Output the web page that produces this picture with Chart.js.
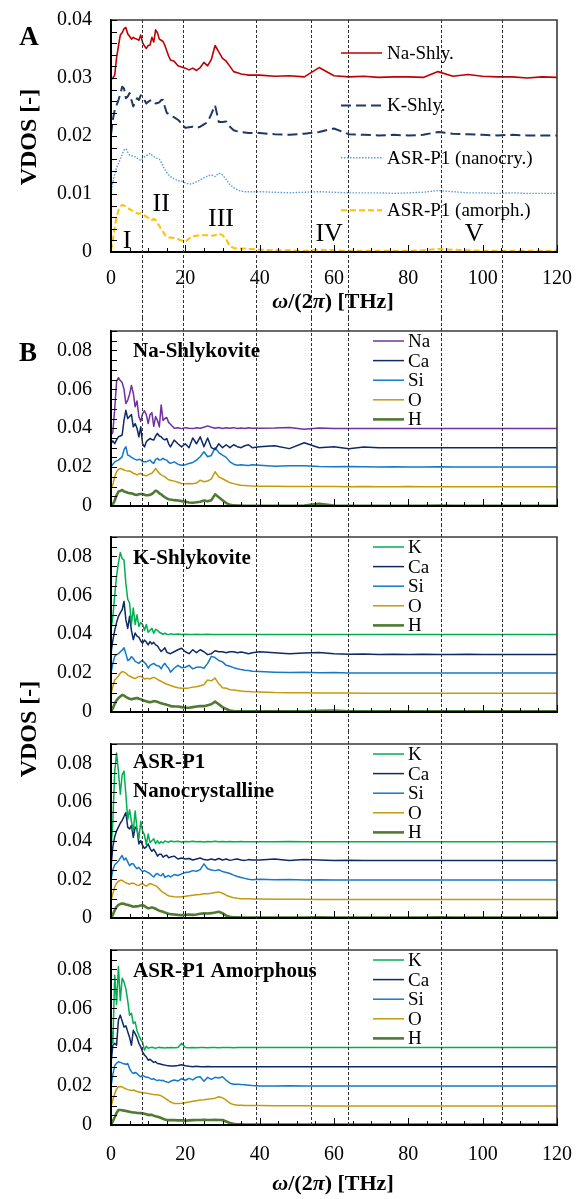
<!DOCTYPE html>
<html><head><meta charset="utf-8">
<script src="https://cdn.jsdelivr.net/npm/chart.js@4/dist/chart.umd.min.js"></script>
<style>
html,body{margin:0;padding:0;background:#fff;}
body{width:583px;height:1199px;position:relative;overflow:hidden;font-family:'Liberation Serif','Times New Roman',serif;color:#000;}
canvas{position:absolute;left:0;}
.c{position:absolute;transform:translate(-50%,-50%);line-height:1;white-space:nowrap;font-weight:bold;z-index:5;}
.r{transform:translate(-50%,-50%) rotate(-90deg);}
</style></head><body>
<canvas id="cA" width="583" height="318" style="top:0px;width:583px;height:318px"></canvas>
<canvas id="cB1" width="583" height="206" style="top:318px;width:583px;height:206px"></canvas>
<canvas id="cB2" width="583" height="207" style="top:524px;width:583px;height:207px"></canvas>
<canvas id="cB3" width="583" height="206" style="top:731px;width:583px;height:206px"></canvas>
<canvas id="cB4" width="583" height="262" style="top:937px;width:583px;height:262px"></canvas>
<div class="c" style="left:29px;top:36px;font-size:27px">A</div>
<div class="c" style="left:28px;top:352px;font-size:27px">B</div>
<div class="c r" style="left:28px;top:137px;font-size:24px">VDOS [-]</div>
<div class="c r" style="left:28px;top:729px;font-size:24px">VDOS [-]</div>
<div class="c" style="left:333px;top:301px;font-size:22px"><i>ω</i>/(2<i>π</i>) [THz]</div>
<div class="c" style="left:333px;top:1183px;font-size:22px"><i>ω</i>/(2<i>π</i>) [THz]</div>
<script>
// ---------- DATA ----------
const freq = [0,0.5,1,1.5,2,2.5,3,3.5,4,4.5,5,5.5,6,6.5,7,7.5,8,8.5,9,9.5,10,10.5,11,11.5,12,12.5,13,13.5,14,14.5,15,15.5,16,
17,18,19,20,21,22,23,24,25,26,27,28,29,30,31,32,33,34,35,36,37,38,
40,44,48,52,56,60,64,68,72,76,80,84,88,92,96,100,104,108,112,116,120];

const xTicks = [0,20,40,60,80,100,120];
const yTicksA = [0,0.01,0.02,0.03,0.04];
const yTicksB = [0,0.02,0.04,0.06,0.08];
const boundaries = [8.3,19.4,39,53.8,63.8,88.8,105.2];
const regionNames = ['I','II','III','IV','V'];
const regionX = [4.3,13.5,29.6,58.7,97.7];
const regionY = [0.0021,0.0084,0.0059,0.0033,0.0033];

const seriesNamesA = ['Na-Shly.','K-Shly.','ASR-P1 (nanocry.)','ASR-P1 (amorph.)'];
const aNaShly = [0.0297,0.0300,0.0305,0.0335,0.0355,0.0374,0.0378,0.0385,0.0387,0.0376,0.0372,0.0367,0.0370,0.0368,0.0367,0.0365,0.0374,0.0361,0.0355,0.0351,0.0356,0.0357,0.0370,0.0362,0.0383,0.0378,0.0367,0.0365,0.0363,0.0356,0.0347,0.0338,0.0331,
0.0329,0.0321,0.0319,0.0317,0.0314,0.0317,0.0313,0.0318,0.0327,0.0321,0.0332,0.0356,0.0345,0.0334,0.0329,0.0320,0.0311,0.0309,0.0307,0.0306,0.0305,0.0305,
0.0305,0.0303,0.0304,0.0302,0.0318,0.0304,0.0302,0.0303,0.0301,0.0302,0.0302,0.0301,0.0311,0.0303,0.0306,0.0303,0.0302,0.0302,0.0300,0.0302,0.0301];
const aKShly = [0.0202,0.0228,0.0245,0.0253,0.0262,0.0272,0.0285,0.0282,0.0265,0.0268,0.0274,0.0262,0.0251,0.0258,0.0265,0.0262,0.0270,0.0268,0.0262,0.0256,0.0259,0.0261,0.0262,0.0258,0.0256,0.0257,0.0258,0.0262,0.0262,0.0250,0.0240,0.0238,0.0236,
0.0232,0.0228,0.0222,0.0214,0.0215,0.0216,0.0214,0.0216,0.0220,0.0224,0.0238,0.0253,0.0224,0.0224,0.0225,0.0216,0.0210,0.0208,0.0207,0.0206,0.0205,0.0205,
0.0205,0.0203,0.0202,0.0204,0.0207,0.0213,0.0203,0.0202,0.0201,0.0202,0.0201,0.0202,0.0207,0.0204,0.0203,0.0202,0.0201,0.0202,0.0201,0.0201,0.0201];
const aNano = [0.0101,0.0120,0.0135,0.0145,0.0153,0.0160,0.0168,0.0176,0.0178,0.0172,0.0167,0.0166,0.0165,0.0164,0.0162,0.0160,0.0158,0.0161,0.0164,0.0166,0.0168,0.0170,0.0167,0.0165,0.0163,0.0161,0.0160,0.0155,0.0148,0.0142,0.0137,0.0133,0.0130,
0.0126,0.0123,0.0122,0.0119,0.0117,0.0118,0.0121,0.0124,0.0128,0.0131,0.0133,0.0130,0.0136,0.0133,0.0125,0.0116,0.0111,0.0107,0.0105,0.0104,0.0104,0.0104,
0.0104,0.0103,0.0102,0.0103,0.0104,0.0103,0.0102,0.0102,0.0102,0.0101,0.0102,0.0103,0.0106,0.0104,0.0102,0.0102,0.0101,0.0102,0.0101,0.0101,0.0101];
const aAmorph = [0.0003,0.0020,0.0042,0.0060,0.0072,0.0078,0.0081,0.0080,0.0079,0.0076,0.0074,0.0072,0.0070,0.0068,0.0067,0.0066,0.0067,0.0066,0.0063,0.0061,0.0059,0.0056,0.0055,0.0057,0.0055,0.0050,0.0045,0.0039,0.0035,0.0030,0.0026,0.0025,0.0025,
0.0024,0.0022,0.0020,0.0018,0.0023,0.0027,0.0028,0.0029,0.0029,0.0029,0.0028,0.0029,0.0032,0.0029,0.0022,0.0010,0.0007,0.0006,0.0006,0.0006,0.0005,0.0005,
0.0004,0.0003,0.0003,0.0002,0.0004,0.0003,0.0002,0.0002,0.0002,0.0002,0.0002,0.0003,0.0005,0.0004,0.0003,0.0002,0.0002,0.0002,0.0002,0.0002,0.0002];

// Panel B1: Na-Shlykovite
const b1Na = [0.0364,0.0380,0.0500,0.0640,0.0660,0.0645,0.0635,0.0600,0.0527,0.0545,0.0575,0.0620,0.0580,0.0510,0.0540,0.0460,0.0435,0.0475,0.0490,0.0470,0.0424,0.0470,0.0480,0.0410,0.0460,0.0440,0.0407,0.0520,0.0440,0.0450,0.0455,0.0430,0.0420,
0.0400,0.0402,0.0398,0.0403,0.0400,0.0398,0.0402,0.0400,0.0405,0.0412,0.0405,0.0400,0.0404,0.0399,0.0402,0.0400,0.0403,0.0399,0.0401,0.0399,0.0402,0.0400,
0.0400,0.0401,0.0404,0.0395,0.0401,0.0399,0.0398,0.0399,0.0398,0.0399,0.0398,0.0399,0.0398,0.0398,0.0399,0.0398,0.0398,0.0399,0.0398,0.0398,0.0398];
const b1Ca = [0.0321,0.0335,0.0321,0.0340,0.0356,0.0360,0.0365,0.0441,0.0492,0.0450,0.0460,0.0470,0.0407,0.0424,0.0400,0.0356,0.0407,0.0320,0.0304,0.0330,0.0340,0.0347,0.0342,0.0339,0.0360,0.0373,0.0360,0.0356,0.0345,0.0340,0.0347,0.0320,0.0304,
0.0339,0.0320,0.0304,0.0320,0.0300,0.0350,0.0320,0.0356,0.0305,0.0350,0.0300,0.0290,0.0320,0.0300,0.0315,0.0300,0.0315,0.0305,0.0300,0.0310,0.0315,0.0300,
0.0305,0.0310,0.0295,0.0325,0.0300,0.0305,0.0295,0.0303,0.0299,0.0300,0.0299,0.0300,0.0299,0.0300,0.0299,0.0300,0.0299,0.0299,0.0300,0.0299,0.0299];
const b1Si = [0.0202,0.0215,0.0227,0.0232,0.0236,0.0245,0.0253,0.0290,0.0305,0.0262,0.0258,0.0250,0.0245,0.0240,0.0236,0.0240,0.0238,0.0227,0.0228,0.0227,0.0232,0.0236,0.0225,0.0219,0.0240,0.0245,0.0236,0.0238,0.0245,0.0238,0.0236,0.0225,0.0219,
0.0227,0.0215,0.0210,0.0212,0.0219,0.0224,0.0236,0.0253,0.0279,0.0253,0.0260,0.0300,0.0275,0.0262,0.0250,0.0227,0.0215,0.0210,0.0212,0.0210,0.0208,0.0212,
0.0210,0.0205,0.0207,0.0207,0.0203,0.0202,0.0203,0.0202,0.0201,0.0202,0.0201,0.0201,0.0202,0.0201,0.0201,0.0201,0.0201,0.0201,0.0201,0.0201,0.0201];
const b1O = [0.0091,0.0110,0.0150,0.0176,0.0188,0.0193,0.0190,0.0185,0.0182,0.0180,0.0180,0.0175,0.0168,0.0165,0.0160,0.0165,0.0168,0.0160,0.0158,0.0155,0.0160,0.0165,0.0168,0.0180,0.0193,0.0180,0.0168,0.0160,0.0155,0.0150,0.0142,0.0135,0.0132,
0.0128,0.0122,0.0116,0.0115,0.0116,0.0115,0.0118,0.0133,0.0125,0.0128,0.0140,0.0176,0.0150,0.0140,0.0130,0.0120,0.0115,0.0110,0.0107,0.0106,0.0104,0.0103,
0.0102,0.0101,0.0100,0.0100,0.0100,0.0100,0.0099,0.0100,0.0099,0.0099,0.0100,0.0099,0.0099,0.0099,0.0099,0.0099,0.0099,0.0099,0.0099,0.0099,0.0099];
const b1H = [0.0000,0.0010,0.0028,0.0055,0.0074,0.0078,0.0082,0.0075,0.0072,0.0068,0.0066,0.0065,0.0062,0.0058,0.0057,0.0060,0.0062,0.0062,0.0058,0.0055,0.0056,0.0058,0.0062,0.0070,0.0079,0.0075,0.0065,0.0060,0.0052,0.0045,0.0039,0.0035,0.0033,
0.0030,0.0028,0.0025,0.0022,0.0018,0.0017,0.0019,0.0022,0.0028,0.0024,0.0030,0.0060,0.0045,0.0030,0.0015,0.0006,0.0003,0.0002,0.0002,0.0001,0.0001,0.0001,
0.0001,0.0001,0.0001,0.0002,0.0012,0.0002,0.0001,0.0001,0.0001,0.0001,0.0001,0.0001,0.0002,0.0001,0.0001,0.0001,0.0001,0.0001,0.0001,0.0001,0.0001];

// Panel B2: K-Shlykovite
const b2K = [0.0423,0.0490,0.0600,0.0700,0.0767,0.0820,0.0790,0.0780,0.0660,0.0580,0.0560,0.0450,0.0535,0.0450,0.0500,0.0440,0.0460,0.0450,0.0420,0.0450,0.0410,0.0420,0.0430,0.0405,0.0425,0.0420,0.0410,0.0405,0.0400,0.0405,0.0400,0.0398,0.0402,
0.0399,0.0401,0.0398,0.0400,0.0399,0.0398,0.0400,0.0399,0.0398,0.0400,0.0399,0.0398,0.0399,0.0398,0.0399,0.0398,0.0398,0.0399,0.0398,0.0398,0.0399,0.0398,
0.0398,0.0398,0.0399,0.0398,0.0398,0.0398,0.0398,0.0398,0.0398,0.0398,0.0398,0.0398,0.0398,0.0398,0.0398,0.0398,0.0398,0.0398,0.0398,0.0398,0.0398];
const b2Ca = [0.0303,0.0370,0.0420,0.0460,0.0492,0.0510,0.0526,0.0569,0.0475,0.0430,0.0492,0.0420,0.0372,0.0406,0.0390,0.0385,0.0365,0.0354,0.0370,0.0360,0.0345,0.0362,0.0350,0.0358,0.0345,0.0340,0.0325,0.0311,0.0320,0.0330,0.0308,0.0303,0.0300,
0.0310,0.0320,0.0328,0.0310,0.0300,0.0320,0.0305,0.0320,0.0310,0.0295,0.0300,0.0315,0.0310,0.0310,0.0305,0.0310,0.0310,0.0305,0.0308,0.0305,0.0300,0.0305,
0.0310,0.0305,0.0300,0.0303,0.0306,0.0300,0.0297,0.0298,0.0296,0.0297,0.0296,0.0297,0.0296,0.0296,0.0297,0.0296,0.0296,0.0296,0.0296,0.0296,0.0296];
const b2Si = [0.0200,0.0250,0.0286,0.0295,0.0300,0.0310,0.0318,0.0330,0.0300,0.0265,0.0270,0.0285,0.0275,0.0260,0.0255,0.0250,0.0260,0.0265,0.0255,0.0245,0.0225,0.0240,0.0245,0.0250,0.0242,0.0238,0.0235,0.0222,0.0240,0.0250,0.0235,0.0225,0.0205,
0.0225,0.0240,0.0228,0.0230,0.0240,0.0222,0.0230,0.0232,0.0225,0.0250,0.0286,0.0280,0.0265,0.0258,0.0240,0.0235,0.0228,0.0222,0.0218,0.0215,0.0213,0.0210,
0.0208,0.0205,0.0203,0.0204,0.0202,0.0203,0.0201,0.0201,0.0200,0.0200,0.0200,0.0200,0.0200,0.0200,0.0200,0.0200,0.0200,0.0200,0.0200,0.0200,0.0200];
const b2O = [0.0096,0.0130,0.0165,0.0175,0.0185,0.0200,0.0208,0.0205,0.0200,0.0190,0.0185,0.0180,0.0175,0.0172,0.0178,0.0182,0.0183,0.0178,0.0170,0.0172,0.0172,0.0170,0.0175,0.0178,0.0174,0.0168,0.0162,0.0158,0.0152,0.0148,0.0143,0.0140,0.0136,
0.0130,0.0125,0.0122,0.0122,0.0124,0.0128,0.0130,0.0135,0.0140,0.0165,0.0160,0.0174,0.0145,0.0125,0.0122,0.0115,0.0113,0.0110,0.0108,0.0106,0.0105,0.0104,
0.0103,0.0100,0.0099,0.0099,0.0098,0.0098,0.0098,0.0097,0.0097,0.0097,0.0097,0.0097,0.0097,0.0097,0.0097,0.0097,0.0097,0.0097,0.0097,0.0097,0.0097];
const b2H = [0.0002,0.0020,0.0042,0.0060,0.0072,0.0080,0.0088,0.0085,0.0078,0.0072,0.0068,0.0065,0.0068,0.0070,0.0072,0.0068,0.0065,0.0062,0.0058,0.0055,0.0052,0.0050,0.0053,0.0055,0.0055,0.0052,0.0048,0.0045,0.0042,0.0040,0.0037,0.0035,0.0030,
0.0028,0.0028,0.0025,0.0022,0.0022,0.0025,0.0028,0.0030,0.0030,0.0035,0.0040,0.0053,0.0040,0.0025,0.0015,0.0008,0.0005,0.0003,0.0003,0.0003,0.0003,0.0003,
0.0003,0.0003,0.0003,0.0004,0.0006,0.0008,0.0003,0.0003,0.0003,0.0003,0.0003,0.0003,0.0004,0.0003,0.0003,0.0003,0.0003,0.0003,0.0003,0.0003,0.0003];

// Panel B3: ASR-P1 Nanocrystalline
const b3K = [0.0349,0.0500,0.0760,0.0853,0.0759,0.0640,0.0740,0.0760,0.0640,0.0510,0.0560,0.0500,0.0451,0.0554,0.0460,0.0410,0.0500,0.0450,0.0430,0.0380,0.0434,0.0390,0.0400,0.0410,0.0385,0.0400,0.0385,0.0395,0.0388,0.0398,0.0395,0.0392,0.0398,
0.0394,0.0397,0.0393,0.0396,0.0394,0.0397,0.0394,0.0396,0.0393,0.0396,0.0394,0.0397,0.0394,0.0396,0.0394,0.0396,0.0395,0.0394,0.0396,0.0394,0.0395,0.0395,
0.0395,0.0394,0.0396,0.0395,0.0394,0.0395,0.0395,0.0394,0.0395,0.0395,0.0394,0.0395,0.0395,0.0395,0.0394,0.0395,0.0395,0.0395,0.0395,0.0395,0.0395];
const b3Ca = [0.0263,0.0370,0.0420,0.0451,0.0470,0.0490,0.0505,0.0525,0.0545,0.0470,0.0460,0.0480,0.0417,0.0470,0.0460,0.0383,0.0400,0.0375,0.0360,0.0368,0.0383,0.0360,0.0345,0.0355,0.0340,0.0320,0.0330,0.0330,0.0315,0.0322,0.0325,0.0312,0.0315,
0.0320,0.0305,0.0310,0.0305,0.0308,0.0300,0.0305,0.0310,0.0302,0.0300,0.0305,0.0300,0.0308,0.0300,0.0305,0.0298,0.0302,0.0305,0.0300,0.0298,0.0302,0.0300,
0.0300,0.0305,0.0298,0.0302,0.0300,0.0297,0.0299,0.0298,0.0298,0.0298,0.0298,0.0298,0.0298,0.0298,0.0298,0.0298,0.0298,0.0298,0.0298,0.0298,0.0298];
const b3Si = [0.0195,0.0250,0.0275,0.0285,0.0295,0.0310,0.0323,0.0300,0.0310,0.0290,0.0270,0.0280,0.0280,0.0265,0.0255,0.0262,0.0250,0.0240,0.0245,0.0240,0.0235,0.0229,0.0220,0.0212,0.0225,0.0230,0.0222,0.0218,0.0230,0.0210,0.0215,0.0220,0.0212,
0.0225,0.0220,0.0228,0.0235,0.0238,0.0245,0.0242,0.0250,0.0280,0.0255,0.0248,0.0245,0.0250,0.0240,0.0235,0.0230,0.0222,0.0215,0.0210,0.0205,0.0200,0.0198,
0.0200,0.0198,0.0199,0.0197,0.0198,0.0196,0.0196,0.0196,0.0196,0.0196,0.0196,0.0196,0.0196,0.0196,0.0196,0.0196,0.0196,0.0196,0.0196,0.0196,0.0196];
const b3O = [0.0092,0.0125,0.0161,0.0180,0.0190,0.0195,0.0195,0.0188,0.0182,0.0178,0.0175,0.0180,0.0180,0.0175,0.0170,0.0168,0.0175,0.0178,0.0170,0.0165,0.0172,0.0178,0.0175,0.0170,0.0168,0.0160,0.0150,0.0140,0.0132,0.0127,0.0120,0.0115,0.0112,
0.0110,0.0109,0.0110,0.0112,0.0115,0.0118,0.0120,0.0122,0.0125,0.0125,0.0128,0.0132,0.0135,0.0128,0.0118,0.0110,0.0105,0.0102,0.0100,0.0100,0.0099,0.0098,
0.0098,0.0097,0.0097,0.0097,0.0096,0.0096,0.0096,0.0096,0.0096,0.0096,0.0096,0.0096,0.0096,0.0096,0.0096,0.0096,0.0096,0.0096,0.0096,0.0096,0.0096];
const b3H = [0.0000,0.0018,0.0040,0.0058,0.0068,0.0072,0.0075,0.0074,0.0070,0.0068,0.0065,0.0062,0.0058,0.0060,0.0060,0.0062,0.0065,0.0067,0.0062,0.0055,0.0050,0.0052,0.0055,0.0052,0.0048,0.0042,0.0038,0.0035,0.0032,0.0028,0.0025,0.0022,0.0020,
0.0018,0.0016,0.0015,0.0016,0.0018,0.0016,0.0018,0.0022,0.0024,0.0023,0.0025,0.0028,0.0032,0.0025,0.0012,0.0006,0.0004,0.0003,0.0002,0.0002,0.0002,0.0002,
0.0002,0.0002,0.0002,0.0002,0.0003,0.0002,0.0002,0.0002,0.0002,0.0002,0.0002,0.0002,0.0003,0.0002,0.0002,0.0002,0.0002,0.0002,0.0002,0.0002,0.0002];

// Panel B4: ASR-P1 Amorphous
const b4K = [0.0504,0.0420,0.0770,0.0620,0.0815,0.0640,0.0755,0.0735,0.0700,0.0640,0.0565,0.0575,0.0522,0.0530,0.0485,0.0460,0.0440,0.0425,0.0385,0.0405,0.0395,0.0398,0.0400,0.0397,0.0395,0.0398,0.0400,0.0397,0.0398,0.0396,0.0398,0.0397,0.0398,
0.0397,0.0398,0.0420,0.0398,0.0397,0.0398,0.0397,0.0398,0.0398,0.0397,0.0398,0.0398,0.0397,0.0398,0.0398,0.0398,0.0397,0.0398,0.0398,0.0398,0.0398,0.0398,
0.0398,0.0398,0.0398,0.0398,0.0398,0.0398,0.0398,0.0398,0.0398,0.0398,0.0398,0.0398,0.0398,0.0398,0.0398,0.0398,0.0398,0.0398,0.0398,0.0398,0.0398];
const b4Ca = [0.0316,0.0410,0.0420,0.0410,0.0540,0.0565,0.0535,0.0504,0.0510,0.0480,0.0450,0.0410,0.0487,0.0470,0.0450,0.0420,0.0402,0.0375,0.0360,0.0350,0.0333,0.0338,0.0330,0.0322,0.0325,0.0316,0.0315,0.0312,0.0310,0.0308,0.0306,0.0305,0.0304,
0.0303,0.0306,0.0310,0.0305,0.0302,0.0300,0.0302,0.0299,0.0300,0.0301,0.0300,0.0299,0.0300,0.0299,0.0300,0.0299,0.0300,0.0299,0.0299,0.0300,0.0299,0.0299,
0.0299,0.0299,0.0299,0.0299,0.0299,0.0299,0.0299,0.0299,0.0299,0.0299,0.0299,0.0299,0.0299,0.0299,0.0299,0.0299,0.0299,0.0299,0.0299,0.0299,0.0299];
const b4Si = [0.0197,0.0260,0.0305,0.0318,0.0325,0.0322,0.0318,0.0315,0.0312,0.0316,0.0290,0.0274,0.0265,0.0270,0.0265,0.0255,0.0248,0.0255,0.0250,0.0245,0.0245,0.0240,0.0235,0.0238,0.0232,0.0228,0.0232,0.0228,0.0230,0.0224,0.0222,0.0218,0.0225,
0.0231,0.0226,0.0238,0.0230,0.0240,0.0232,0.0245,0.0248,0.0225,0.0245,0.0235,0.0245,0.0242,0.0248,0.0230,0.0215,0.0210,0.0210,0.0208,0.0207,0.0205,0.0203,
0.0200,0.0201,0.0202,0.0200,0.0200,0.0200,0.0200,0.0200,0.0200,0.0200,0.0200,0.0200,0.0200,0.0200,0.0200,0.0200,0.0200,0.0200,0.0200,0.0200,0.0200];
const b4O = [0.0094,0.0130,0.0160,0.0185,0.0197,0.0198,0.0196,0.0190,0.0186,0.0182,0.0180,0.0178,0.0180,0.0176,0.0172,0.0170,0.0168,0.0166,0.0165,0.0164,0.0162,0.0160,0.0158,0.0157,0.0155,0.0155,0.0153,0.0150,0.0145,0.0138,0.0132,0.0125,0.0118,
0.0111,0.0111,0.0112,0.0115,0.0118,0.0122,0.0125,0.0128,0.0130,0.0133,0.0135,0.0138,0.0145,0.0140,0.0128,0.0112,0.0105,0.0102,0.0101,0.0100,0.0100,0.0100,
0.0100,0.0099,0.0099,0.0099,0.0098,0.0098,0.0098,0.0098,0.0098,0.0098,0.0098,0.0098,0.0098,0.0098,0.0098,0.0098,0.0098,0.0098,0.0098,0.0098,0.0098];
const b4H = [0.0000,0.0020,0.0040,0.0062,0.0077,0.0077,0.0076,0.0074,0.0072,0.0070,0.0068,0.0066,0.0064,0.0064,0.0062,0.0062,0.0061,0.0060,0.0058,0.0055,0.0052,0.0053,0.0052,0.0048,0.0045,0.0043,0.0040,0.0036,0.0032,0.0028,0.0026,0.0025,0.0025,
0.0025,0.0024,0.0024,0.0022,0.0024,0.0025,0.0026,0.0026,0.0027,0.0026,0.0026,0.0027,0.0026,0.0026,0.0018,0.0010,0.0006,0.0004,0.0003,0.0002,0.0002,0.0002,
0.0002,0.0002,0.0002,0.0002,0.0002,0.0002,0.0002,0.0002,0.0002,0.0002,0.0002,0.0002,0.0002,0.0002,0.0002,0.0002,0.0002,0.0002,0.0002,0.0002,0.0002];

// ---------- STYLE ----------
const FONT = "'Liberation Serif','Times New Roman',serif";
Chart.defaults.font.family = FONT;
Chart.defaults.color = '#000';
const elemColor = {Na:'#7030A0', K:'#00B050', Ca:'#0E2A66', Si:'#1479C9', O:'#C49A0C', H:'#4E7A32'};
const elemWidth = {Na:1.5, K:1.5, Ca:1.5, Si:1.5, O:1.5, H:2.6};
const styleA = [
  {color:'#C00000', width:1.6, dash:[]},
  {color:'#1F3864', width:2, dash:[10,5]},
  {color:'#5B9BD5', width:1.4, dash:[1.5,1.5]},
  {color:'#FFC000', width:2, dash:[6,3]}
];

function zeroPad(s) { s.paddingTop = 0; s.paddingBottom = 0; s.paddingLeft = 0; s.paddingRight = 0; }

const decoPlugin = {
  id: 'deco',
  afterDatasetsDraw(chart, args, o) {
    const {ctx, chartArea: a, scales: {x, y}} = chart;
    ctx.save();
    ctx.setLineDash([]);
    ctx.strokeStyle = '#3a3a3a'; ctx.lineWidth = 1.6;
    ctx.beginPath(); ctx.moveTo(a.left, a.top); ctx.lineTo(a.right, a.top); ctx.lineTo(a.right, a.bottom); ctx.stroke();
    ctx.strokeStyle = '#000'; ctx.lineWidth = 2;
    ctx.beginPath(); ctx.moveTo(a.left, a.top); ctx.lineTo(a.left, a.bottom); ctx.lineTo(a.right, a.bottom); ctx.stroke();
    ctx.lineWidth = 1;
    for (let i = 0; i <= 24; i++) {
      const v = i * 5, px = Math.round(x.getPixelForValue(v)) + 0.5;
      const len = (v % 20 === 0) ? 7 : 4;
      ctx.beginPath(); ctx.moveTo(px, a.bottom); ctx.lineTo(px, a.bottom - len); ctx.stroke();
    }
    const n = Math.round(o.yMax / o.yMinor);
    for (let i = 0; i <= n; i++) {
      const py = Math.round(y.getPixelForValue(i * o.yMinor)) + 0.5;
      ctx.beginPath(); ctx.moveTo(a.left, py); ctx.lineTo(a.left + 6, py); ctx.stroke();
    }
    ctx.restore();
  },
  afterDraw(chart, args, o) {
    const {ctx, chartArea: a, scales: {x, y}} = chart;
    ctx.save();
    ctx.strokeStyle = '#303030'; ctx.lineWidth = 1; ctx.setLineDash([3, 2]);
    const y0 = o.dashFromEdge ? 0 : a.top;
    const y1 = o.dashToEdge ? chart.height : a.bottom;
    boundaries.forEach(b => {
      const px = Math.round(x.getPixelForValue(b)) + 0.5;
      ctx.beginPath(); ctx.moveTo(px, y0); ctx.lineTo(px, y1); ctx.stroke();
    });
    ctx.setLineDash([]);
    const L = o.legend;
    ctx.font = L.size + 'px ' + FONT; ctx.fillStyle = '#000';
    ctx.textBaseline = 'middle'; ctx.textAlign = 'left';
    chart.data.datasets.forEach((ds, i) => {
      const ly = a.top + L.top + L.dy * i;
      ctx.strokeStyle = ds.borderColor; ctx.lineWidth = ds.borderWidth; ctx.setLineDash(ds.borderDash || []);
      ctx.beginPath(); ctx.moveTo(a.left + L.x0, ly); ctx.lineTo(a.left + L.x1, ly); ctx.stroke();
      ctx.setLineDash([]);
      ctx.fillText(ds.label, a.left + L.tx, ly + 1);
    });
    if (o.title) {
      ctx.font = 'bold 21px ' + FONT; ctx.textAlign = 'left'; ctx.textBaseline = 'middle';
      o.title.forEach((t, i) => ctx.fillText(t, a.left + 22, a.top + o.titleDy[i]));
    }
    if (o.regions) {
      ctx.font = '26px ' + FONT; ctx.textAlign = 'center'; ctx.textBaseline = 'middle';
      regionNames.forEach((r, i) => ctx.fillText(r, x.getPixelForValue(regionX[i]), y.getPixelForValue(regionY[i]) + 1));
    }
    ctx.restore();
  }
};

function makeChart(id, p) {
  return new Chart(document.getElementById(id), {
    type: 'line',
    data: {
      datasets: p.series.map(s => ({
        label: s.label,
        data: freq.map((f, i) => ({x: f, y: s.values[i]})),
        borderColor: s.color, borderWidth: s.width, borderDash: s.dash,
        pointRadius: 0, fill: false, tension: 0, borderJoinStyle: 'round'
      }))
    },
    options: {
      responsive: false, animation: false, devicePixelRatio: 1,
      layout: {padding: {top: p.padTop, right: 26, left: 0, bottom: 0}},
      plugins: {legend: {display: false}, tooltip: {enabled: false}, deco: p.deco},
      scales: {
        x: {
          type: 'linear', min: 0, max: 120,
          afterBuildTicks: s => { s.ticks = xTicks.map(v => ({value: v})); },
          afterFit: s => { s.height = p.xH; zeroPad(s); },
          grid: {display: false, drawTicks: false},
          border: {display: true, color: '#000', width: 2},
          ticks: {display: p.xLabels, font: {size: 20, family: FONT}, color: '#000', padding: p.xPad, maxRotation: 0, autoSkip: false}
        },
        y: {
          min: 0, max: p.yMax,
          afterBuildTicks: s => { s.ticks = p.yTicks.map(v => ({value: v})); },
          afterFit: s => { s.width = 111; zeroPad(s); },
          grid: {display: false, drawTicks: false},
          border: {display: true, color: '#000', width: 2},
          ticks: {font: {size: 20, family: FONT}, color: '#000', padding: 19,
                  callback: v => v === 0 ? '0' : v.toFixed(2)}
        }
      }
    },
    plugins: [decoPlugin]
  });
}

makeChart('cA', {
  series: [aNaShly, aKShly, aNano, aAmorph].map((v, i) => ({label: seriesNamesA[i], values: v, color: styleA[i].color, width: styleA[i].width, dash: styleA[i].dash})),
  padTop: 20, xH: 66, xLabels: true, xPad: 15, yMax: 0.04, yTicks: yTicksA,
  deco: {yMax: 0.04, yMinor: 0.002, dashFromEdge: false, dashToEdge: true, regions: true,
         legend: {top: 33, dy: 52.4, x0: 230, x1: 271, tx: 276, size: 19}}
});

const panelsB = [
  {id: 'cB1', title: ['Na-Shlykovite'], titleDy: [21], elems: ['Na','Ca','Si','O','H'], vals: [b1Na,b1Ca,b1Si,b1O,b1H], padTop: 13, xH: 18, last: false},
  {id: 'cB2', title: ['K-Shlykovite'], titleDy: [22], elems: ['K','Ca','Si','O','H'], vals: [b2K,b2Ca,b2Si,b2O,b2H], padTop: 13, xH: 19, last: false},
  {id: 'cB3', title: ['ASR-P1','Nanocrystalline'], titleDy: [19,48], elems: ['K','Ca','Si','O','H'], vals: [b3K,b3Ca,b3Si,b3O,b3H], padTop: 13, xH: 19, last: false},
  {id: 'cB4', title: ['ASR-P1 Amorphous'], titleDy: [22], elems: ['K','Ca','Si','O','H'], vals: [b4K,b4Ca,b4Si,b4O,b4H], padTop: 13, xH: 74, last: true}
];
panelsB.forEach(pb => {
  makeChart(pb.id, {
    series: pb.elems.map((e, i) => ({label: e, values: pb.vals[i], color: elemColor[e], width: elemWidth[e], dash: []})),
    padTop: pb.padTop, xH: pb.xH, xLabels: pb.last, xPad: 18, yMax: 0.09, yTicks: yTicksB,
    deco: {yMax: 0.09, yMinor: 0.005, dashFromEdge: true, dashToEdge: !pb.last, title: pb.title, titleDy: pb.titleDy,
           legend: {top: 10, dy: 19.6, x0: 262, x1: 293, tx: 297, size: 19}}
  });
});
</script>
</body></html>
